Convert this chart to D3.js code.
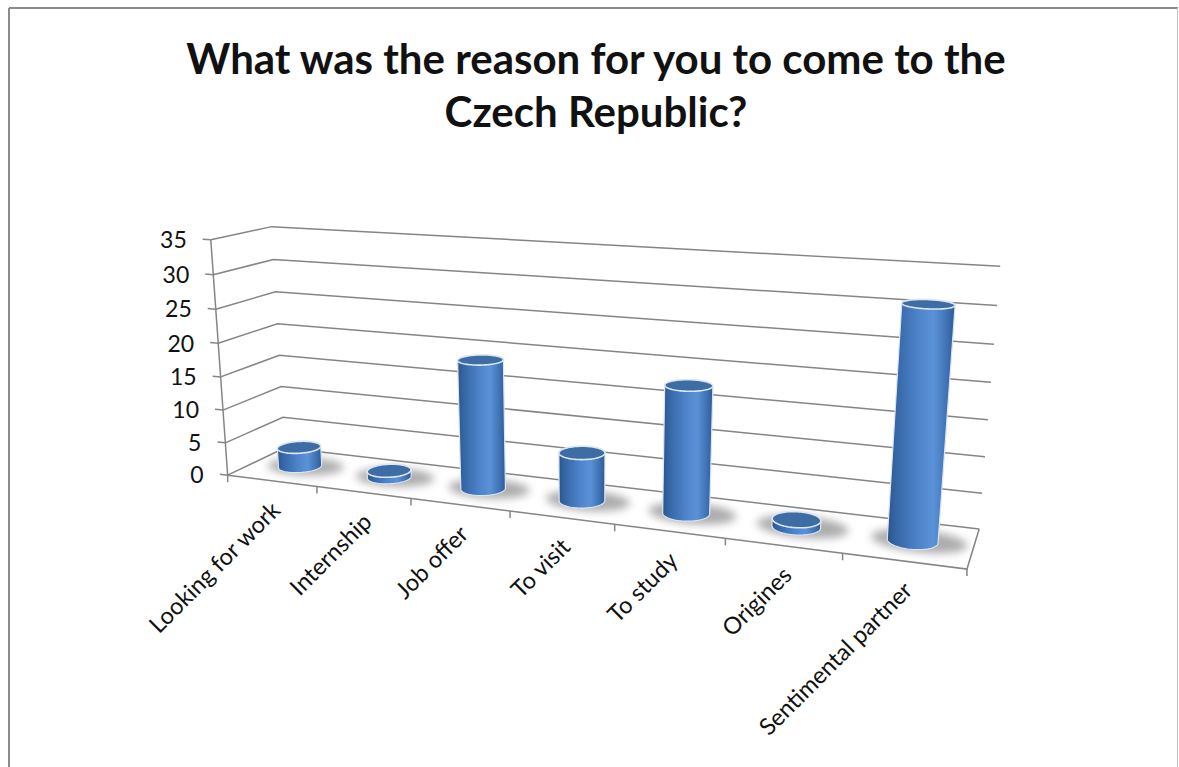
<!DOCTYPE html>
<html>
<head>
<meta charset="utf-8">
<script src="https://cdn.jsdelivr.net/npm/d3@7"></script>
<style>
  body { margin: 0; background: #fff; }
  svg { display: block; }
  text { font-family: Lato, "Open Sans", sans-serif; fill: #111; }
</style>
</head>
<body>
<svg id="chart" width="1179" height="767"></svg>
<script>
const categories = ["Looking for work", "Internship", "Job offer", "To visit",
    "To study", "Origines", "Sentimental partner"];
const counts = [3, 1, 19, 7, 18, 1, 31];
const yTicks = [0, 5, 10, 15, 20, 25, 30, 35];
const titleLines = ["What was the reason for you to come to the", "Czech Republic?"];

const width = 1179, height = 767;
const cylRadius = 0.21;   // in category units
const floorDepth = 1;     // depth of the 3d box, in category units

// where the 3d box sits on the page: [category pos, value, depth, px, py]
// used to solve a perspective camera (DLT) so everything else goes through it
const frameAnchors = [
    [0, 0, 0, 228.3, 475], [0, 35, 0, 210, 240],
    [0, 0, 1, 285, 448], [0, 35, 1, 273.3, 226],
    [7, 0, 0, 966.7, 568.3], [7, 0, 1, 978.3, 528.3], [7, 35, 1, 1000, 266],
    [1, 0, 0, 316.7, 486.2], [2, 0, 0, 410, 498.5], [3, 0, 0, 510, 511],
    [4, 0, 0, 615, 524.5], [5, 0, 0, 726, 539], [6, 0, 0, 842.7, 554],
    [7, 5, 1, 982.3, 493.3], [7, 10, 1, 985.7, 456.7], [7, 15, 1, 988.3, 420],
    [7, 20, 1, 990.7, 382.3], [7, 25, 1, 994, 344], [7, 30, 1, 996.7, 306],
    [0, 5, 1, 283.3, 417.3], [0, 10, 1, 281.7, 386.7], [0, 15, 1, 278.3, 355.7],
    [0, 20, 1, 276.7, 324], [0, 25, 1, 275, 291.7], [0, 30, 1, 273.3, 259.3],
    [0, 10, 0, 223.2, 409.3], [0, 20, 0, 218.4, 343.3], [0, 30, 0, 213.6, 275]
];

const x = d3.scaleBand().domain(categories).range([0, categories.length]);
const y = d3.scaleLinear().domain([0, 35]).range([0, 7]);

// ---- camera --------------------------------------------------------------
const NX = 600, NY = 400, NS = 400;

function solveCamera(anchors) {
    const n = 11;
    const M = Array.from({ length: n }, () => new Array(n + 1).fill(0));
    function addRow(row, rhs) {
        for (let i = 0; i < n; i++) {
            for (let j = 0; j < n; j++) M[i][j] += row[i] * row[j];
            M[i][n] += row[i] * rhs;
        }
    }
    anchors.forEach(([cx, val, dz, px, py]) => {
        const X = cx, Y = y(val), Z = dz;
        const u = (px - NX) / NS, v = (py - NY) / NS;
        addRow([X, Y, Z, 1, 0, 0, 0, 0, -u * X, -u * Y, -u * Z], u);
        addRow([0, 0, 0, 0, X, Y, Z, 1, -v * X, -v * Y, -v * Z], v);
    });
    for (let c = 0; c < n; c++) {
        let p = c;
        for (let r = c + 1; r < n; r++) if (Math.abs(M[r][c]) > Math.abs(M[p][c])) p = r;
        [M[c], M[p]] = [M[p], M[c]];
        for (let r = 0; r < n; r++) {
            if (r === c) continue;
            const f = M[r][c] / M[c][c];
            for (let j = c; j <= n; j++) M[r][j] -= f * M[c][j];
        }
    }
    return M.map((r, i) => r[n] / r[i]);
}

const P = solveCamera(frameAnchors);

// X = category units, val = data value, Z = depth units
function project(X, val, Z) {
    const Y = y(val);
    const w = P[8] * X + P[9] * Y + P[10] * Z + 1;
    const u = (P[0] * X + P[1] * Y + P[2] * Z + P[3]) / w;
    const v = (P[4] * X + P[5] * Y + P[6] * Z + P[7]) / w;
    return [u * NS + NX, v * NS + NY];
}

// ---- drawing -------------------------------------------------------------
const svg = d3.select("#chart");
const line = d3.line();
const nCat = categories.length;

const defs = svg.append("defs");
const grad = defs.append("linearGradient").attr("id", "cylSide");
[[0, "#2a5587"], [0.12, "#3565a4"], [0.45, "#4d83ca"], [0.68, "#5b92d7"],
 [0.88, "#3f72b4"], [1, "#2d5b92"]].forEach(([o, c]) =>
    grad.append("stop").attr("offset", o).attr("stop-color", c));
defs.append("filter").attr("id", "blur")
    .attr("x", "-50%").attr("y", "-50%").attr("width", "200%").attr("height", "200%")
    .append("feGaussianBlur").attr("stdDeviation", 4);

// chart border
svg.append("line").attr("x1", 9).attr("y1", 8).attr("x2", 1178).attr("y2", 8)
    .attr("stroke", "#8a8a8a").attr("stroke-width", 2);
svg.append("line").attr("x1", 9).attr("y1", 8).attr("x2", 9).attr("y2", height)
    .attr("stroke", "#8a8a8a").attr("stroke-width", 2);
svg.append("line").attr("x1", 1177.5).attr("y1", 8).attr("x2", 1177.5).attr("y2", height)
    .attr("stroke", "#c4c4c4").attr("stroke-width", 1);

// title
svg.append("g").selectAll("text").data(titleLines).enter().append("text")
    .attr("x", 596).attr("y", (d, i) => 74 + i * 53)
    .attr("text-anchor", "middle")
    .style("font-size", "42px").style("font-weight", "bold")
    .text(d => d);

// grid: left wall + back wall
const grid = svg.append("g").attr("class", "grid");
grid.selectAll("path").data(yTicks).enter().append("path")
    .attr("d", v => line([project(0, v, 0), project(0, v, floorDepth), project(nCat, v, floorDepth)]))
    .attr("fill", "none").attr("stroke", "#858585").attr("stroke-width", 1.5);

// floor front + right edge, vertical axis edge
const axes = svg.append("g").attr("class", "axes")
    .attr("fill", "none").attr("stroke", "#858585").attr("stroke-width", 1.5);
axes.append("path").attr("d", line([project(0, 0, 0), project(nCat, 0, 0), project(nCat, 0, floorDepth)]));
axes.append("path").attr("d", line([project(0, 0, 0), project(0, 35, 0)]));

// y ticks + labels
axes.selectAll(".ytick").data(yTicks).enter().append("path")
    .attr("class", "ytick")
    .attr("d", v => line([project(0, v, 0), project(-0.09, v, 0)]));
svg.append("g").selectAll("text").data(yTicks).enter().append("text")
    .attr("x", v => project(0, v, 0)[0] - 24)
    .attr("y", v => project(0, v, 0)[1])
    .attr("dy", "0.36em").attr("text-anchor", "end")
    .style("font-size", "23px")
    .text(v => v);

// category ticks + labels
axes.selectAll(".xtick").data(d3.range(nCat + 1)).enter().append("path")
    .attr("class", "xtick")
    .attr("d", k => { const p = project(k, 0, 0); return line([p, [p[0], p[1] + 7]]); });
svg.append("g").selectAll("text").data(categories).enter().append("text")
    .attr("transform", c => {
        const p = project(x(c) + x.bandwidth() / 2, 0, 0);
        return `translate(${p[0] + 10},${p[1] + 31}) rotate(-45)`;
    })
    .attr("text-anchor", "end")
    .style("font-size", "23.5px")
    .text(c => c);

// cylinders
function ring(cx, val, cz, rx, rz, steps) {
    return d3.range(steps).map(i => {
        const a = i / steps * 2 * Math.PI;
        return project(cx + rx * Math.cos(a), val, cz + rz * Math.sin(a));
    });
}

const bars = categories.map((c, i) => ({ name: c, value: counts[i], cx: x(c) + x.bandwidth() / 2 }));
const cz = floorDepth / 2;

svg.append("g").attr("class", "shadows").selectAll("path").data(bars).enter().append("path")
    .attr("d", d => line(ring(d.cx + 0.05, 0, cz + 0.02, cylRadius * 1.9, cylRadius * 1.3, 60)) + "Z")
    .attr("fill", "#5a5a5a").attr("opacity", 0.5)
    .attr("filter", "url(#blur)");

const cyl = svg.append("g").attr("class", "bars").selectAll("g").data(bars).enter().append("g");
cyl.append("path")
    .attr("d", d => {
        const pts = ring(d.cx, 0, cz, cylRadius, cylRadius, 90)
            .concat(ring(d.cx, d.value, cz, cylRadius, cylRadius, 90));
        return line(d3.polygonHull(pts)) + "Z";
    })
    .attr("fill", "url(#cylSide)")
    .attr("stroke", "#dbe5f1").attr("stroke-width", 1.2);
cyl.append("path")
    .attr("d", d => line(ring(d.cx, d.value, cz, cylRadius, cylRadius, 90)) + "Z")
    .attr("fill", "#3e6ca4")
    .attr("stroke", "#dde7f2").attr("stroke-width", 1.6);
</script>
</body>
</html>
